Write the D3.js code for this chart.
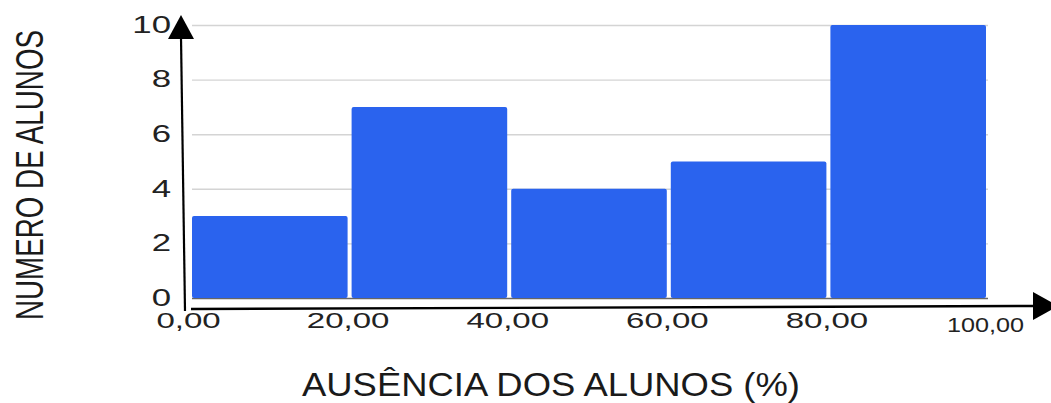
<!DOCTYPE html>
<html><head><meta charset="utf-8">
<script src="https://cdn.jsdelivr.net/npm/d3@7"></script>
<style>html,body{margin:0;padding:0;background:#fff;}svg{display:block;font-family:"Liberation Sans",Arial,sans-serif;}</style>
</head><body>
<svg id="c" width="1051" height="403"></svg>
<script>
const binStarts = [0, 20, 40, 60, 80];
const binEnds = [20, 40, 60, 80, 100];
const counts = [3, 7, 4, 5, 10];
const xTickValues = [0, 20, 40, 60, 80, 100];
const xTickLabels = ["0,00", "20,00", "40,00", "60,00", "80,00", "100,00"];
const yTickValues = [0, 2, 4, 6, 8, 10];
const xTitle = "AUSÊNCIA DOS ALUNOS (%)";
const yTitle = "NUMERO DE ALUNOS";

const svg = d3.select("#c");
const x = d3.scaleLinear().domain([0, 100]).range([190, 988]);
const y = d3.scaleLinear().domain([0, 10]).range([298, 25]);

// gridlines
const grid = svg.append("g").attr("transform", `translate(${x(0)},0)`)
  .call(d3.axisLeft(y).tickValues(yTickValues).tickSize(-(x(100) - x(0))).tickFormat(""));
grid.select(".domain").remove();
grid.selectAll(".tick line").attr("stroke", d => d === 0 ? "#666" : "#d4d4d4").attr("stroke-width", d => d === 0 ? 1.6 : 1.4).attr("x1", 2);

// y tick labels
const sx = 1.45;
const yl = svg.append("g").attr("transform", `translate(${x(0)},0)`)
  .call(d3.axisLeft(y).tickValues(yTickValues).tickSize(0).tickFormat(d => d));
yl.select(".domain").remove();
yl.selectAll(".tick text").attr("font-size", 24).attr("fill", "#222").attr("font-family", "Liberation Sans, Arial, sans-serif")
  .attr("x", -19 / sx).attr("transform", `scale(${sx},1)`).attr("dy", "0.3em");

// bars
const data = counts.map((c, i) => ({x0: binStarts[i], x1: binEnds[i], c}));
svg.append("g").selectAll("rect").data(data).join("rect")
  .attr("x", d => x(d.x0) + 2)
  .attr("width", d => x(d.x1) - x(d.x0) - 4)
  .attr("y", d => y(d.c))
  .attr("height", d => y(0) - y(d.c))
  .attr("rx", 2)
  .attr("fill", "#2a63ee");

// x tick labels
const xl = svg.append("g").attr("transform", `translate(0,${y(0)})`)
  .call(d3.axisBottom(x).tickValues(xTickValues).tickSize(0).tickFormat((d, i) => xTickLabels[i]));
xl.select(".domain").remove();
xl.selectAll(".tick text").attr("fill", "#222").attr("font-family", "Liberation Sans, Arial, sans-serif")
  .attr("font-size", (d, i) => i === 5 ? 21 : 22)
  .attr("dy", null)
  .attr("y", (d, i) => i === 5 ? 34 : 30)
  .attr("x", (d, i) => i === 5 ? -3 / 1.2 : -2 / 1.5)
  .attr("transform", (d, i) => i === 5 ? "scale(1.2,1)" : "scale(1.5,1)");

// axis arrows (hand drawn, slightly slanted)
const ax = svg.append("g").attr("fill", "#000").attr("stroke", "#000");
ax.append("line").attr("x1", x(0) - 5).attr("y1", y(0) + 13).attr("x2", x(0) - 9).attr("y2", y(10) + 12).attr("stroke-width", 2.2);
ax.append("path").attr("stroke", "none")
  .attr("d", `M${x(0) - 9},${y(10) - 10} L${x(0) - 22},${y(10) + 14} L${x(0) + 4},${y(10) + 14} Z`);
ax.append("line").attr("x1", x(0) + 1).attr("y1", y(0) + 11).attr("x2", x(100) + 46).attr("y2", y(0) + 8).attr("stroke-width", 2.4);
ax.append("path").attr("stroke", "none")
  .attr("d", `M${x(100) + 70},${y(0) + 8} L${x(100) + 45},${y(0) - 6} L${x(100) + 45},${y(0) + 22} Z`);

// titles
svg.append("text").attr("x", 551).attr("y", 396).attr("text-anchor", "middle")
  .attr("font-size", 34).attr("fill", "#1a1a1a").attr("textLength", 498).attr("lengthAdjust", "spacingAndGlyphs").text(xTitle);
svg.append("text").attr("transform", "translate(43,175) rotate(-90)").attr("text-anchor", "middle")
  .attr("font-size", 38).attr("fill", "#1a1a1a").attr("textLength", 290).attr("lengthAdjust", "spacingAndGlyphs").text(yTitle);
</script>
</body></html>
